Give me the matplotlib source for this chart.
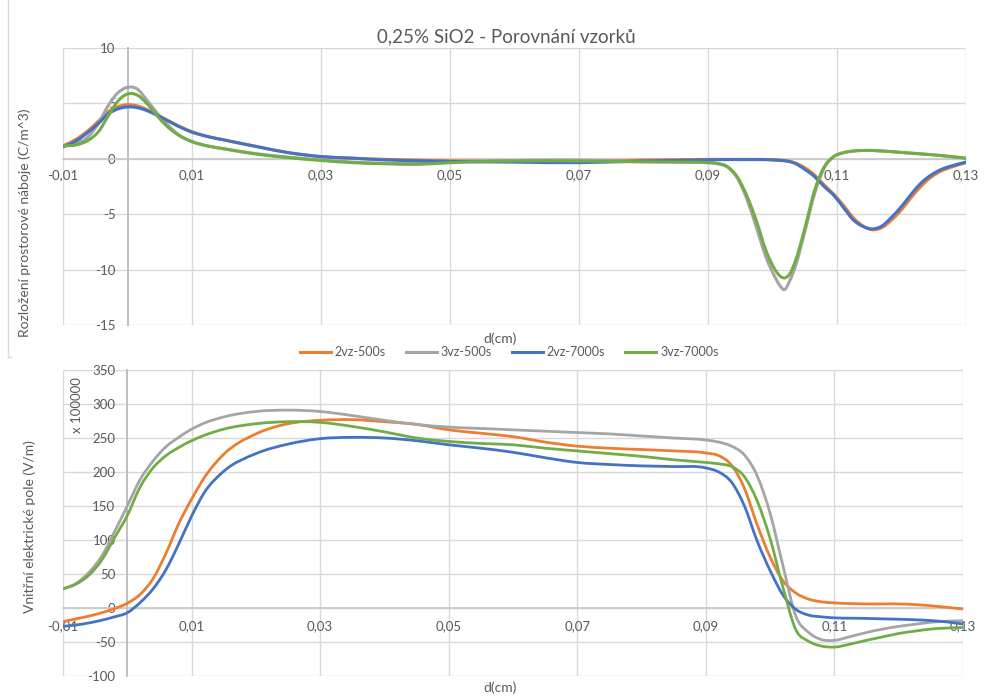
import numpy as np
import matplotlib
matplotlib.use('Agg')
import matplotlib.pyplot as plt
from matplotlib.ticker import FuncFormatter, FixedLocator
from matplotlib.lines import Line2D
from matplotlib.path import Path
from matplotlib.patches import PathPatch

plt.rcParams['font.family'] = ['Lato', 'DejaVu Sans']

# --- data ---
labels = ['2vz-500s', '3vz-500s', '2vz-7000s', '3vz-7000s']
colors = ['#ED7D31', '#A5A5A5', '#4472C4', '#70AD47']

# top chart: space charge distribution (C/m^3)
x_top = [-0.01, -0.008, -0.006, -0.0045, -0.003, -0.0015, 0.0, 0.0015, 0.003, 0.0045,
         0.006, 0.008, 0.01, 0.0125, 0.015, 0.02, 0.025, 0.03, 0.035, 0.04,
         0.045, 0.05, 0.06, 0.07, 0.08, 0.085, 0.09, 0.0915, 0.093, 0.0945,
         0.096, 0.0975, 0.099, 0.1005, 0.1012, 0.1019, 0.1026, 0.1035, 0.105, 0.1065,
         0.108, 0.1095, 0.111, 0.1125, 0.114, 0.1155, 0.117, 0.1185, 0.12, 0.1215,
         0.123, 0.1245, 0.126, 0.128, 0.13]
orange_top = [1.17, 1.75, 2.6, 3.4, 4.25, 4.7, 4.88, 4.78, 4.45, 4.0,
              3.55, 2.95, 2.45, 2.0, 1.7, 1.12, 0.55, 0.2, 0.05, -0.05,
              -0.12, -0.18, -0.2, -0.2, -0.12, -0.08, -0.05, -0.05, -0.05, -0.05,
              -0.05, -0.05, -0.06, -0.1, -0.12, -0.16, -0.22, -0.37, -0.8, -1.45,
              -2.35, -3.2, -4.2, -5.3, -6.05, -6.4, -6.2, -5.5, -4.6, -3.5,
              -2.5, -1.7, -1.15, -0.7, -0.35]
gray_top = [1.17, 1.35, 2.05, 3.2, 4.8, 5.95, 6.45, 6.3, 5.3, 4.2,
            3.2, 2.15, 1.55, 1.15, 0.9, 0.46, 0.15, -0.1, -0.3, -0.4,
            -0.42, -0.3, -0.15, -0.12, -0.25, -0.28, -0.35, -0.45, -0.75, -1.7,
            -3.6, -6.2, -8.9, -10.8, -11.5, -11.8, -11.1, -9.8, -6.6, -3.2,
            -0.85, 0.2, 0.55, 0.7, 0.75, 0.75, 0.7, 0.65, 0.58, 0.52,
            0.45, 0.38, 0.3, 0.18, 0.06]
blue_top = [1.08, 1.6, 2.45, 3.2, 4.05, 4.5, 4.68, 4.62, 4.35, 3.95,
            3.5, 2.9, 2.4, 2.0, 1.7, 1.1, 0.55, 0.2, 0.05, -0.1,
            -0.18, -0.24, -0.3, -0.35, -0.2, -0.15, -0.1, -0.08, -0.07, -0.07,
            -0.07, -0.07, -0.08, -0.12, -0.14, -0.18, -0.25, -0.42, -0.95, -1.6,
            -2.5, -3.3, -4.4, -5.5, -6.1, -6.33, -6.05, -5.25, -4.3, -3.2,
            -2.2, -1.5, -1.0, -0.6, -0.3]
green_top = [1.17, 1.25, 1.7, 2.45, 3.85, 5.2, 5.85, 5.75, 5.0, 3.95,
             3.0, 2.1, 1.55, 1.15, 0.9, 0.42, 0.1, -0.15, -0.35, -0.45,
             -0.5, -0.35, -0.2, -0.2, -0.28, -0.3, -0.35, -0.42, -0.7, -1.6,
             -3.3, -5.6, -8.3, -10.1, -10.6, -10.75, -10.45, -9.3, -6.3, -2.9,
             -0.75, 0.2, 0.55, 0.7, 0.75, 0.75, 0.7, 0.64, 0.57, 0.5,
             0.44, 0.37, 0.3, 0.18, 0.06]

# bottom chart: internal electric field (x 100000 V/m)
x_bot = [-0.01, -0.008, -0.006, -0.004, -0.002, 0.0, 0.002, 0.004, 0.006, 0.008,
         0.01, 0.012, 0.015, 0.02, 0.025, 0.03, 0.035, 0.04, 0.045, 0.05,
         0.055, 0.06, 0.065, 0.07, 0.075, 0.08, 0.085, 0.09, 0.092, 0.094,
         0.096, 0.098, 0.1, 0.102, 0.104, 0.106, 0.108, 0.11, 0.1125, 0.115,
         0.1175, 0.12, 0.1225, 0.125, 0.1275, 0.13]
orange_bot = [-20, -16, -12, -7, -1, 7, 20, 43, 80, 124,
              160, 192, 226, 256, 271, 276, 277, 274, 270, 262,
              257, 252, 244, 238, 235, 233, 231, 228, 224, 210,
              176, 122, 75, 40, 22, 13, 9, 7.5, 6.5, 6,
              6, 6, 5, 3.3, 1, -1.5]
gray_bot = [28, 36, 52, 76, 112, 150, 189, 216, 237, 251,
            263, 272, 281, 289, 291, 289, 283, 276, 270, 266,
            264, 262, 260, 258, 256, 253, 250, 247, 244, 238,
            225, 194, 139, 62, -12, -36, -46.5, -47.5, -42, -36,
            -31, -27, -24, -21, -19.5, -18.7]
blue_bot = [-27, -25, -22, -18, -13, -7, 8, 28, 56, 94,
            135, 170, 201, 227, 241, 249, 251, 250, 246, 240,
            235, 229, 221, 214, 211, 209, 208, 206, 200, 185,
            150, 98, 55, 19, -2, -10.5, -13, -14.5, -15, -15.3,
            -16, -16.5, -17.3, -18.5, -20.5, -23.6]
green_bot = [28, 35, 48, 70, 103, 136, 178, 206, 224, 236,
             246, 254, 263, 271, 274, 273, 267, 259, 250, 245,
             242, 240, 235, 231, 227, 223, 218, 214, 212, 208,
             193, 157, 102, 30, -32, -49, -56, -57.5, -53, -47.5,
             -42.5, -37.5, -34, -31, -29.5, -28.6]

x_ticks = [-0.01, 0.01, 0.03, 0.05, 0.07, 0.09, 0.11, 0.13]

TXT = '#595959'
GRID = '#D9D9D9'
W, H = 994, 696


def smooth_path(x, y):
    '''Bezier path through the points, like Excel's smoothed line'''
    x = np.asarray(x, float)
    y = np.asarray(y, float)
    h = np.diff(x)
    s = np.diff(y) / h
    d = np.empty_like(y)
    d[0], d[-1] = s[0], s[-1]
    d[1:-1] = (h[1:] * s[:-1] + h[:-1] * s[1:]) / (h[:-1] + h[1:])
    verts = [(x[0], y[0])]
    codes = [Path.MOVETO]
    for i in range(len(h)):
        verts += [(x[i] + h[i] / 3, y[i] + d[i] * h[i] / 3),
                  (x[i + 1] - h[i] / 3, y[i + 1] - d[i + 1] * h[i] / 3),
                  (x[i + 1], y[i + 1])]
        codes += [Path.CURVE4] * 3
    return Path(verts, codes)


def style(ax, ylim, yticks, xpad):
    ax.set_xlim(-0.01, 0.13)
    ax.set_ylim(*ylim)
    ax.xaxis.set_major_locator(FixedLocator(x_ticks))
    ax.yaxis.set_major_locator(FixedLocator(yticks))
    ax.xaxis.set_major_formatter(FuncFormatter(lambda v, p: f"{v:.2f}".replace('.', ',')))
    ax.yaxis.set_major_formatter(FuncFormatter(lambda v, p: f"{v:.0f}"))
    ax.grid(True, color=GRID, lw=1.0)
    for ln in ax.get_xgridlines() + ax.get_ygridlines():
        ln.set_clip_on(False)
    ax.set_axisbelow(True)
    ax.spines['top'].set_visible(False)
    ax.spines['right'].set_visible(False)
    ax.spines['left'].set_position(('data', 0))
    ax.spines['bottom'].set_position(('data', 0))
    ax.spines['left'].set_color('#BFBFBF')
    ax.spines['left'].set_linewidth(1.4)
    ax.spines['bottom'].set_color('#C8C8C8')
    ax.spines['bottom'].set_linewidth(1.2)
    ax.tick_params(axis='both', length=0, labelsize=9.5, labelcolor=TXT)
    ax.tick_params(axis='x', pad=xpad)
    ax.tick_params(axis='y', pad=8.5)


fig = plt.figure(figsize=(W / 100, H / 100), dpi=100)
ax1 = fig.add_axes([63 / W, 1 - 325 / H, (966 - 63) / W, (325 - 48) / H])
ax2 = fig.add_axes([63 / W, 1 - 676 / H, (963 - 63) / W, (676 - 370) / H])

for ys, c in zip([orange_top, gray_top, blue_top, green_top], colors):
    ax1.add_patch(PathPatch(smooth_path(x_top, ys), fill=False, edgecolor=c, lw=2.2,
                            zorder=3, capstyle='round', joinstyle='round'))
for ys, c in zip([orange_bot, gray_bot, blue_bot, green_bot], colors):
    ax2.add_patch(PathPatch(smooth_path(x_bot, ys), fill=False, edgecolor=c, lw=2.0,
                            zorder=3, capstyle='round', joinstyle='round'))

style(ax1, (-15, 10), [-15, -10, -5, 0, 5, 10], 7.5)
style(ax2, (-100, 350), list(range(-100, 351, 50)), 8.5)

# titles and axis titles
fig.text(506 / W, 1 - 37 / H, '0,25% SiO2 - Porovnání vzorků', ha='center', va='center',
         fontsize=13.5, color=TXT)
fig.text(500 / W, 1 - 339 / H, 'd(cm)', ha='center', va='center', fontsize=10, color=TXT)
fig.text(500 / W, 1 - 688 / H, 'd(cm)', ha='center', va='center', fontsize=10, color=TXT)
fig.text(25 / W, 1 - 223 / H, 'Rozložení prostorové náboje (C/m^3)', rotation=90,
         ha='center', va='center', fontsize=10, color=TXT)
fig.text(30 / W, 1 - 527 / H, 'Vnitřní elektrické pole (V/m)', rotation=90,
         ha='center', va='center', fontsize=10, color=TXT)
fig.text(77 / W, 1 - 405 / H, 'x 100000', rotation=90, ha='center', va='center',
         fontsize=9.5, color=TXT)

# left border of the upper chart area
fig.add_artist(Line2D([8 / W, 8 / W], [1.0, 1 - 357 / H], color=GRID, lw=1.0))
fig.add_artist(Line2D([8 / W, 11 / W], [1 - 357 / H, 1 - 357 / H], color=GRID, lw=1.0))

handles = [Line2D([0], [0], color=c, lw=2.2) for c in colors]
fig.legend(handles, labels, loc='center', bbox_to_anchor=(509 / W, 1 - 352 / H), ncol=4,
           frameon=False, fontsize=9, labelcolor=TXT, handlelength=2.5,
           handletextpad=0.3, columnspacing=1.6)

fig.savefig('out.png', dpi=100)
